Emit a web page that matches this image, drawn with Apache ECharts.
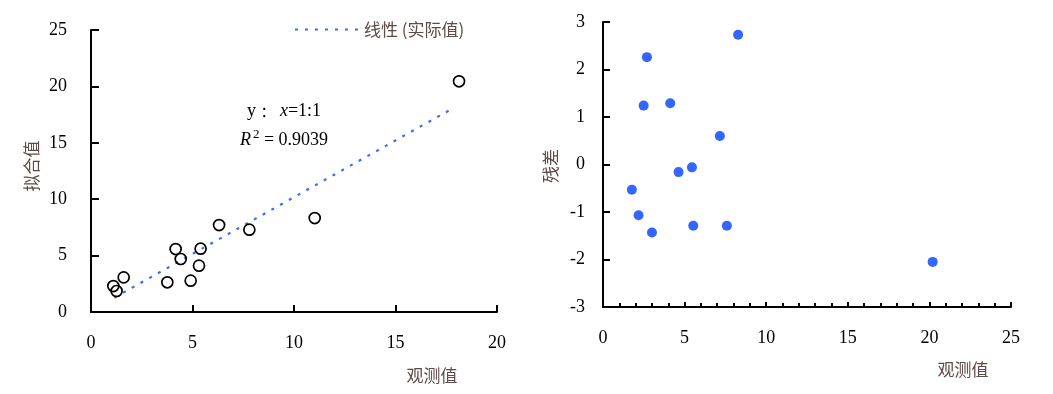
<!DOCTYPE html>
<html><head><meta charset="utf-8">
<script src="https://cdn.jsdelivr.net/npm/echarts@6/dist/echarts.min.js"></script>
<style>html,body{margin:0;padding:0;background:#fff}#c{width:1053px;height:394px}</style>
</head><body><div id="c"></div>
<script>
// Left panel: observed vs fitted
const leftObserved = [1.10, 1.26, 1.61, 3.76, 4.17, 4.42, 4.91, 5.32, 5.40, 6.31, 7.80, 11.02, 18.13];
const leftFitted   = [2.30, 1.86, 3.07, 2.63, 5.58, 4.70, 2.78, 4.11, 5.61, 7.71, 7.30, 8.33, 20.45];
const trendX = [1.15, 17.77];
const trendY = [1.27, 18.00];
// Right panel: observed vs residual
const rightObserved = [1.77, 2.18, 2.49, 2.69, 3.00, 4.12, 4.63, 5.45, 5.53, 7.16, 7.59, 8.28, 20.20];
const rightResidual = [-0.53, -1.07, 1.24, 2.26, -1.43, 1.29, -0.16, -0.06, -1.29, 0.60, -1.29, 2.73, -2.05];
const leftXTicks = [0, 5, 10, 15, 20];
const leftYTicks = [0, 5, 10, 15, 20, 25];
const rightXTicks = [0, 5, 10, 15, 20, 25];
const rightYTicks = [-3, -2, -1, 0, 1, 2, 3];

const serif = '"Liberation Serif","Times New Roman",serif';
const cjk = '"Noto Sans CJK SC","Liberation Serif",serif';
const labelColor = '#5e4a48';
const numStyle = {color: '#000', fontFamily: serif, fontSize: 18};
const axisLine = {show: true, onZero: false, lineStyle: {color: '#000', width: 2}};

const chart = echarts.init(document.getElementById('c'), null, {renderer: 'canvas'});
chart.setOption({
  animation: false,
  backgroundColor: '#fff',
  grid: [
    {left: 91, top: 30, width: 406, height: 282},
    {left: 603, top: 22, width: 408, height: 285}
  ],
  legend: {
    data: ['线性 (实际值)'],
    left: 289, top: 16,
    itemWidth: 64, itemHeight: 14, itemGap: 5,
    itemStyle: {color: 'rgba(0,0,0,0)', borderWidth: 0},
    textStyle: {color: labelColor, fontFamily: cjk, fontSize: 17}
  },
  xAxis: [
    {gridIndex: 0, type: 'value', min: leftXTicks[0], max: leftXTicks[leftXTicks.length-1], interval: 5,
     axisLine: axisLine, axisTick: {show: true, inside: true, length: 7, lineStyle: {color: '#000', width: 2}},
     axisLabel: Object.assign({margin: 22}, numStyle), splitLine: {show: false}},
    {gridIndex: 1, type: 'value', min: rightXTicks[0], max: rightXTicks[rightXTicks.length-1], interval: 5,
     axisLine: axisLine, axisTick: {show: true, inside: true, length: 5, lineStyle: {color: '#000', width: 2}},
     minorTick: {show: true, splitNumber: 5, length: 4, lineStyle: {color: '#000', width: 2}},
     axisLabel: Object.assign({margin: 22}, numStyle), splitLine: {show: false}}
  ],
  yAxis: [
    {gridIndex: 0, type: 'value', min: leftYTicks[0], max: leftYTicks[leftYTicks.length-1], interval: 5,
     axisLine: axisLine, axisTick: {show: true, inside: true, length: 8, lineStyle: {color: '#000', width: 2}},
     axisLabel: Object.assign({margin: 24}, numStyle), splitLine: {show: false}},
    {gridIndex: 1, type: 'value', min: rightYTicks[0], max: rightYTicks[rightYTicks.length-1], interval: 1,
     axisLine: axisLine, axisTick: {show: true, inside: true, length: 7, lineStyle: {color: '#000', width: 2}},
     axisLabel: Object.assign({margin: 18}, numStyle), splitLine: {show: false}}
  ],
  series: [
    {name: '线性 (实际值)', type: 'line', xAxisIndex: 0, yAxisIndex: 0,
     data: trendX.map((x, i) => [x, trendY[i]]), symbol: 'none', showSymbol: false,
     lineStyle: {color: '#3d6cf5', width: 2.2, type: [3, 7]}, itemStyle: {color: '#3d6cf5'}, z: 2},
    {name: 'fit', type: 'scatter', xAxisIndex: 0, yAxisIndex: 0,
     data: leftObserved.map((x, i) => [x, leftFitted[i]]), symbol: 'circle', symbolSize: 11,
     itemStyle: {color: 'rgba(255,255,255,0)', borderColor: '#000', borderWidth: 1.7, opacity: 1}, z: 3},
    {name: 'resid', type: 'scatter', xAxisIndex: 1, yAxisIndex: 1,
     data: rightObserved.map((x, i) => [x, rightResidual[i]]), symbol: 'circle', symbolSize: 10,
     itemStyle: {color: '#3366ff', opacity: 1}, z: 3}
  ],
  graphic: [
    {type: 'text', x: 432, y: 376, style: {text: '观测值', fill: labelColor, font: '17px ' + cjk, align: 'center', verticalAlign: 'middle'}},
    {type: 'text', x: 963, y: 370, style: {text: '观测值', fill: labelColor, font: '17px ' + cjk, align: 'center', verticalAlign: 'middle'}},
    {type: 'text', x: 32, y: 166, rotation: Math.PI / 2, style: {text: '拟合值', fill: labelColor, font: '17px ' + cjk, align: 'center', verticalAlign: 'middle'}},
    {type: 'text', x: 551, y: 166, rotation: Math.PI / 2, style: {text: '残差', fill: labelColor, font: '17px ' + cjk, align: 'center', verticalAlign: 'middle'}},
    {type: 'text', x: 284, y: 111, style: {
      text: '{n|y }{c|：}{i| x}{n|=1:1}', align: 'center', verticalAlign: 'middle',
      rich: {n: {font: '18px ' + serif, fill: '#000'}, i: {font: 'italic 18px ' + serif, fill: '#000'}, c: {font: '15px ' + cjk, fill: '#000'}}}},
    {type: 'text', x: 284, y: 140, style: {
      text: '{i|R}{s|2}{n| = 0.9039}', align: 'center', verticalAlign: 'middle',
      rich: {n: {font: '18px ' + serif, fill: '#000'}, i: {font: 'italic 18px ' + serif, fill: '#000'}, s: {font: '13px ' + serif, fill: '#000', verticalAlign: 'top', padding: [0, 0, 10, 2]}}}}
  ]
});
</script></body></html>
